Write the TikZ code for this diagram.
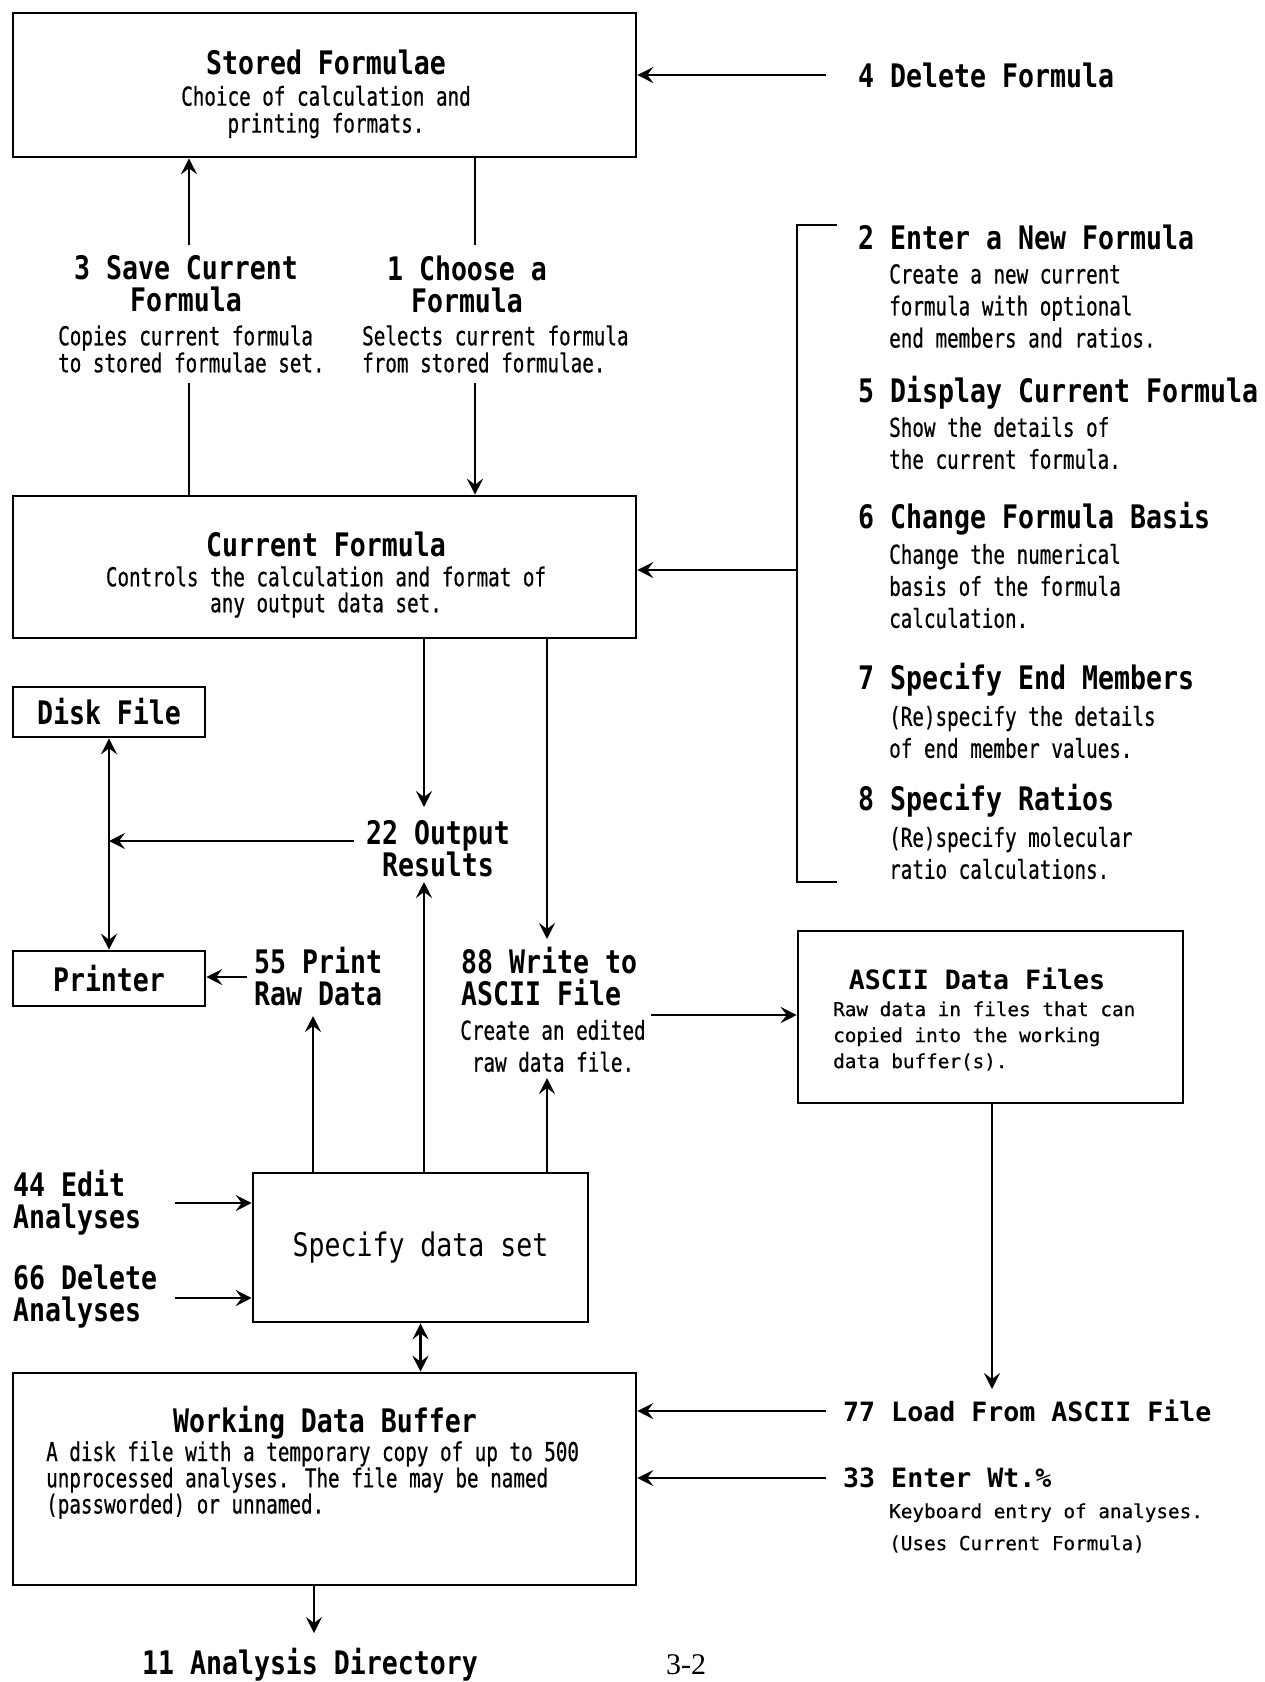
\documentclass[tikz,border=0pt]{standalone}
\usepackage{fontspec}
\usetikzlibrary{arrows.meta}
\newfontfamily\hdfont[FakeStretch=0.82]{DejaVu Sans Mono}
\newfontfamily\bdfont[FakeStretch=0.74,FakeBold=0.6]{DejaVu Sans Mono}
\newfontfamily\wdfont{DejaVu Sans Mono}
\newfontfamily\wbfont[FakeBold=0.6]{DejaVu Sans Mono}
\newfontfamily\serfont{Liberation Serif}
\begin{document}
\begin{tikzpicture}[x=1pt,y=-1pt,
  bx/.style={draw, line width=2.6pt, inner sep=0pt},
  ln/.style={line width=2.2pt},
  ar/.style={line width=2.2pt, -{Stealth[length=16pt,width=16pt,inset=6pt]}},
  arr/.style={line width=2.2pt, {Stealth[length=16pt,width=16pt,inset=6pt]}-{Stealth[length=16pt,width=16pt,inset=6pt]}},
  hd/.style={font=\hdfont\bfseries\fontsize{32.4pt}{#1}\selectfont, inner sep=0pt},
  hd/.default=32pt,
  hr/.style={font=\hdfont\fontsize{32.4pt}{32pt}\selectfont},
  bd/.style={font=\bdfont\fontsize{26pt}{#1}\selectfont, inner sep=0pt},
  bd/.default=27pt,
  wh/.style={font=\wdfont\bfseries\fontsize{26.6pt}{30pt}\selectfont, inner sep=0pt},
  wb/.style={font=\wbfont\fontsize{19.3pt}{#1}\selectfont, inner sep=0pt},
  wb/.default=26pt]
\useasboundingbox (0,0) rectangle (1265,1682);

% ---------- boxes ----------
\node[bx, minimum width=623pt, minimum height=144pt] (sf) at (324.5,85) {};
\node[bx, minimum width=623pt, minimum height=142pt] (cf) at (324.5,567) {};
\node[bx, hd, minimum width=192pt, minimum height=50pt] (disk) at (109,712) {Disk File};
\node[bx, hd, minimum width=192pt, minimum height=55pt] (printer) at (109,978.5) {Printer};
\node[bx, minimum width=385pt, minimum height=172pt] (ascii) at (990.5,1017) {};
\node[bx, hr, inner sep=0pt, minimum width=335pt, minimum height=149pt] (spec) at (420.5,1247.5) {Specify data set};
\node[bx, minimum width=623pt, minimum height=212pt] (wdb) at (324.5,1479) {};

% ---------- texts in boxes ----------
\node[hd] (sfT) at (326,62) {Stored Formulae};
\node[bd, align=center] (sfD) at (326,112) {Choice of calculation and\\printing formats.};
\node[hd] (cfT) at (326,544) {Current Formula};
\node[bd=26pt, align=center] (cfD) at (326,592) {Controls the calculation and format of\\any output data set.};
\node[wh] (asciiT) at (977,979) {ASCII Data Files};
\node[wb, anchor=west, align=left] (asciiD) at (833,1036) {Raw data in files that can\\copied into the working\\data buffer(s).};
\node[hd] (wdbT) at (325,1423) {Working Data Buffer};
\node[bd=25pt, anchor=west, align=left] (wdbD) at (46,1480) {A disk file with a temporary copy of up to 500\\unprocessed analyses. The file may be named\\(passworded) or unnamed.};

% ---------- free texts ----------
\node[hd, anchor=west] (del4) at (858,75) {4 Delete Formula};
\node[hd, align=center] (s3) at (186,284) {3 Save Current\\Formula};
\node[bd, anchor=west, align=left] (s3d) at (58,349) {Copies current formula\\to stored formulae set.};
\node[hd, align=center] (c1) at (467,284) {1 Choose a\\Formula};
\node[bd, anchor=west, align=left] (c1d) at (362,349) {Selects current formula\\from stored formulae.};

\node[hd, anchor=west] (n2) at (858,237) {2 Enter a New Formula};
\node[bd=32pt, anchor=west, align=left] (n2d) at (889,306) {Create a new current\\formula with optional\\end members and ratios.};
\node[hd, anchor=west] (n5) at (858,393) {5 Display Current Formula};
\node[bd=32pt, anchor=west, align=left] (n5d) at (889,443) {Show the details of\\the current formula.};
\node[hd, anchor=west] (n6) at (858,519) {6 Change Formula Basis};
\node[bd=32pt, anchor=west, align=left] (n6d) at (889,586) {Change the numerical\\basis of the formula\\calculation.};
\node[hd, anchor=west] (n7) at (858,680) {7 Specify End Members};
\node[bd=32pt, anchor=west, align=left] (n7d) at (889,732) {(Re)specify the details\\of end member values.};
\node[hd, anchor=west] (n8) at (858,801) {8 Specify Ratios};
\node[bd=32pt, anchor=west, align=left] (n8d) at (889,853) {(Re)specify molecular\\ratio calculations.};

\node[hd, align=center] (o22) at (438,849) {22 Output\\Results};
\node[hd, anchor=west, align=left] (p55) at (254,977) {55 Print\\Raw Data};
\node[hd, anchor=west, align=left] (w88) at (461,977) {88 Write to\\ASCII File};
\node[bd=32pt, align=center] (w88d) at (553,1046) {Create an edited\\raw data file.};

\node[hd, anchor=west, align=left] (e44) at (13,1203) {44 Edit\\Analyses};
\node[hd, anchor=west, align=left] (d66) at (13,1297) {66 Delete\\Analyses};

\node[wh, anchor=west] (l77) at (843,1411) {77 Load From ASCII File};
\node[wh, anchor=west] (e33) at (843,1478) {33 Enter Wt.\%};
\node[wb=32pt, anchor=west, align=left] (e33d) at (889,1528) {Keyboard entry of analyses.\\(Uses Current Formula)};

\node[hd] (a11) at (310,1665) {11 Analysis Directory};
\node[font=\serfont\fontsize{30pt}{30pt}\selectfont, inner sep=0pt] (pg) at (686,1665) {3-2};

% ---------- free ends ----------
\coordinate (c4) at (826,75);
\coordinate (s3top) at (189,245);
\coordinate (s3bot) at (189,383);
\coordinate (c1top) at (475,245);
\coordinate (c1bot) at (475,383);
\coordinate (brtop) at (837,225);
\coordinate (brbot) at (837,882);
\coordinate (brmid) at (797,570);
\coordinate (o22in) at (424,807);
\coordinate (o22up) at (424,882);
\coordinate (o22out) at (354,841);
\coordinate (w88in) at (547,939);
\coordinate (w88up) at (547,1078);
\coordinate (w88out) at (651,1015);
\coordinate (p55up) at (313,1016);
\coordinate (p55out) at (247,977);
\coordinate (l77in) at (992,1389);
\coordinate (e44out) at (175,1203);
\coordinate (d66out) at (175,1298);
\coordinate (l77out) at (826,1411);
\coordinate (e33out) at (826,1478);
\coordinate (a11in) at (314,1633);

% ---------- connectors ----------
\draw[ar] (c4) -- (c4 -| sf.east);
\draw[ar] (s3top) -- (s3top |- sf.south);
\draw[ln] (c1top |- sf.south) -- (c1top);
\draw[ln] (s3bot) -- (s3bot |- cf.north);
\draw[ar] (c1bot) -- (c1bot |- cf.north);
\draw[ln] (brtop) -- (brtop -| brmid) -- (brbot -| brmid) -- (brbot);
\draw[ar] (brmid) -- (brmid -| cf.east);
\draw[ar] (o22in |- cf.south) -- (o22in);
\draw[ar] (w88in |- cf.south) -- (w88in);
\draw[ar] (o22out) -- (o22out -| disk.south);
\draw[arr] (disk.south) -- (printer.north);
\draw[ar] (p55out) -- (p55out -| printer.east);
\draw[ar] (p55up |- spec.north) -- (p55up);
\draw[ar] (o22up |- spec.north) -- (o22up);
\draw[ar] (w88up |- spec.north) -- (w88up);
\draw[ar] (w88out) -- (w88out -| ascii.west);
\draw[ar] (l77in |- ascii.south) -- (l77in);
\draw[ar] (e44out) -- (e44out -| spec.west);
\draw[ar] (d66out) -- (d66out -| spec.west);
\draw[arr] (spec.south) -- (spec.south |- wdb.north);
\draw[ar] (l77out) -- (l77out -| wdb.east);
\draw[ar] (e33out) -- (e33out -| wdb.east);
\draw[ar] (a11in |- wdb.south) -- (a11in);
\end{tikzpicture}
\end{document}
